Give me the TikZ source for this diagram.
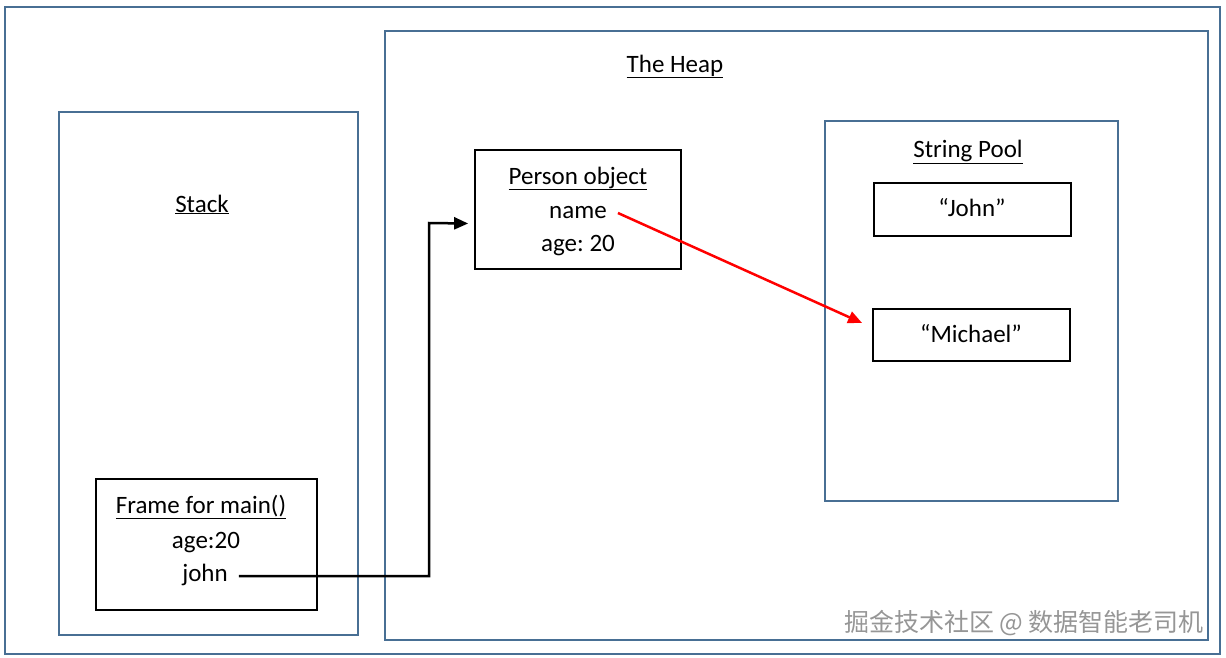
\documentclass[tikz,border=0pt]{standalone}
\usepackage{fontspec}
\setmainfont{Carlito}
\newfontfamily\cjk{Noto Sans CJK SC}
\usepackage{xcolor}
\usetikzlibrary{arrows.meta,calc}
\definecolor{framecol}{RGB}{72,111,148}
\definecolor{markgray}{RGB}{150,150,150}
\frenchspacing
\tikzset{
	frame/.style={draw=framecol, line width=2pt},
	objbox/.style={draw=black, line width=1.8pt, inner sep=0pt},
	title/.style={font=\fontsize{25}{30}\selectfont, inner sep=0pt, anchor=base},
	ref/.style={line width=2.5pt, -{Triangle[length=14pt,width=12pt]}}
}

\begin{document}
\begin{tikzpicture}[x=1pt,y=-1pt]
		\useasboundingbox (0,0) rectangle (1226,657);
		\draw[frame] (5,7) rectangle (1220,654);
		\draw[frame] (59,112) rectangle (358,635);
		\draw[frame] (385,31) rectangle (1208,640);
		\draw[frame] (825,121) rectangle (1118,501);
		\node[title] (stack) at (202,212) {\underline{Stack}};
		\node[title] (heap) at (675,72) {\underline{The Heap}};
		\node[title] (pool) at (968,157) {\underline{String Pool}};
		% objects
		\node[objbox, minimum width=206, minimum height=119] (person) at (578,209.5) {};
		\node[title] (ptitle) at (578,184) {\underline{Person object}};
		\node[title] (name) at (578,218) {name};
		\node[title] (page) at (578,251) {age: 20};
		\node[objbox, minimum width=221, minimum height=131] (frame) at (206.5,544.5) {};
		\node[title] (ftitle) at (201,513) {\underline{Frame for main()}};
		\node[title] (fage) at (206,548) {age:20};
		\node[title] (john) at (205,581) {john};
		\node[objbox, minimum width=197, minimum height=53] (johnstr) at (972.5,209.5) {};
		\node[title] (johntext) at (972,216) {“John”};
		\node[objbox, minimum width=197, minimum height=52] (michael) at (971.5,335) {};
		\node[title] (michaeltext) at (971,342) {“Michael”};
		% references
		\coordinate (personin) at ($(person.west)+(-6,14)$);
		\draw[ref] ($(john.base east)+(11,-5)$) -| (429,223) -- (personin);
		\draw[ref, red] ($(name.base east)+(11,-5)$) -- ($(michael.west)+(-10,-12)$);
		\node[font=\cjk\fontsize{25}{30}\selectfont, text=markgray, inner sep=0pt] (mark) at (1024,623) {掘金技术社区 @ 数据智能老司机};
	\end{tikzpicture}
\end{document}
